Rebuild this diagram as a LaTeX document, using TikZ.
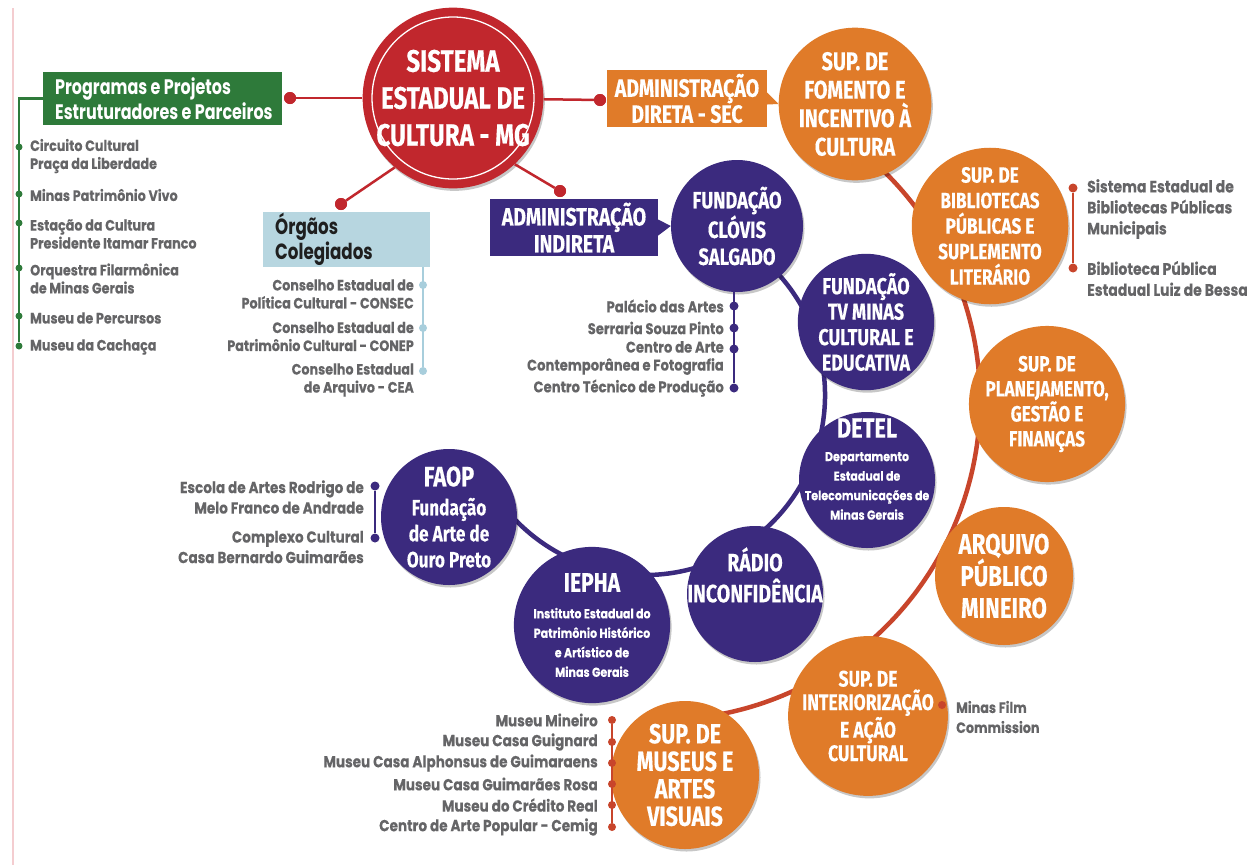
\documentclass[tikz,border=0pt]{standalone}
\usepackage{fontspec}
\newfontfamily\TF[FakeStretch=0.78,FakeBold=0.3]{Fira Sans}
\newfontfamily\GF[FakeStretch=0.85,FakeBold=0.2]{Poppins}
\newfontfamily\GC[FakeStretch=0.76]{Poppins}
\newcommand\tfsz[2]{\TF\bfseries\fontsize{#1}{#2}\selectfont}
\newcommand\gfsz[2]{\GF\bfseries\fontsize{#1}{#2}\selectfont}
\newcommand\gcsz[2]{\GC\bfseries\fontsize{#1}{#2}\selectfont}
\usetikzlibrary{shadows}
\definecolor{redC}{HTML}{C1272D}
\definecolor{orgC}{HTML}{E07B29}
\definecolor{arcO}{HTML}{C8452B}
\definecolor{purC}{HTML}{3B2A7E}
\definecolor{grnC}{HTML}{2E7A3A}
\definecolor{bluB}{HTML}{B7D6E0}
\definecolor{bluL}{HTML}{A8CEDC}
\definecolor{grayT}{HTML}{656567}
\definecolor{pinkL}{HTML}{F4CDD0}
\tikzset{
  shad/.style={drop shadow={shadow xshift=1.5pt, shadow yshift=-2.5pt, opacity=0.22, fill=black}},
  circ/.style={circle, inner sep=0pt, text=white, align=center, shad},
  oc/.style={circ, fill=orgC},
  pc/.style={circ, fill=purC},
  ctext/.style={inner sep=0pt, text=white, align=center},
  item/.style={text=grayT, inner sep=0pt},
  dotR/.style={circle, fill=redC, inner sep=0pt, minimum size=12pt},
  dotG/.style={circle, fill=grnC, inner sep=0pt, minimum size=7pt},
  dotB/.style={circle, fill=bluL, inner sep=0pt, minimum size=8pt},
  dotP/.style={circle, fill=purC, inner sep=0pt, minimum size=9pt},
  dotO/.style={circle, fill=arcO, inner sep=0pt, minimum size=9pt},
  redline/.style={redC, line width=2.5pt},
}
\begin{document}
\begin{tikzpicture}[x=1pt,y=1pt]
\fill[white] (0,0) rectangle (1252,-865);
\useasboundingbox (0,0) rectangle (1252,-865);
\draw[pinkL, line width=2pt] (13,-8) -- (13,-865);

% arcs of the two rings
\coordinate (oC) at (660,-400);
\coordinate (pC) at (645,-395);
\draw[arcO, line width=4.5pt] (oC) ++(60:320) arc[start angle=60, end angle=-88, radius=320];
\draw[purC, line width=4.5pt] (pC) ++(62:180) arc[start angle=62, end angle=-148, radius=180];

% main circle
\node[circ, fill=redC, minimum size=174pt, font=\tfsz{31}{37}] (main) at (453,-98) {SISTEMA\\ESTADUAL DE\\CULTURA - MG};
\draw[white, line width=1.3pt] (main.center) circle[radius=81];

% boxes
\node[fill=grnC, minimum width=239pt, minimum height=53pt, inner sep=0pt] (prog) at (162.5,-98.5) {};
\node[inner sep=0pt, anchor=west, align=left, text=white, font=\gcsz{21}{25}] (progT) at (55,-98.5) {Programas e Projetos\\Estruturadores e Parceiros};
\node[fill=bluB, minimum width=167pt, minimum height=55pt, inner sep=0pt] (org) at (346.5,-239.5) {};
\node[inner sep=0pt, anchor=west, align=left, text=black!88, font=\gcsz{22}{25}] (orgT) at (275,-239.5) {Órgãos\\Colegiados};
\node[fill=orgC, minimum width=160pt, minimum height=53pt, text=white, align=center, font=\tfsz{25}{26}] (admD) at (687,-98.5) {ADMINISTRAÇÃO\\DIRETA - SEC};
\node[fill=purC, minimum width=168pt, minimum height=55pt, text=white, align=center, font=\tfsz{25}{27}] (admI) at (574,-227.5) {ADMINISTRAÇÃO\\INDIRETA};

% orange circles
\node[oc, minimum size=144pt, font=\tfsz{25.5}{28.5}] (fom) at (855,-104) {SUP. DE\\FOMENTO E\\INCENTIVO À\\CULTURA};
\node[oc, minimum size=132pt, font=\tfsz{22}{25.5}] (bib) at (990,-226) {SUP. DE\\BIBLIOTECAS\\PÚBLICAS E\\SUPLEMENTO\\LITERÁRIO};
\node[oc, minimum size=144pt, font=\tfsz{22}{25}] (pla) at (1047,-404) {SUP. DE\\PLANEJAMENTO,\\GESTÃO E\\FINANÇAS};
\node[oc, minimum size=138pt, font=\tfsz{28.5}{32}] (arq) at (1004,-576) {ARQUIVO\\PÚBLICO\\MINEIRO};
\node[oc, minimum size=138pt, font=\tfsz{22.5}{23.5}] (int) at (868,-716) {SUP. DE\\INTERIORIZAÇÃO\\E AÇÃO\\CULTURAL};
\node[oc, minimum size=148pt, font=\tfsz{27.5}{27.5}] (mus) at (685,-775) {SUP. DE\\MUSEUS E\\ARTES\\VISUAIS};

% purple circles
\node[pc, minimum size=132pt, font=\tfsz{23.5}{27}] (fcs) at (737,-226) {FUNDAÇÃO\\CLÓVIS\\SALGADO};
\node[pc, minimum size=134pt, font=\tfsz{23}{25.5}] (tvm) at (866,-322) {FUNDAÇÃO\\TV MINAS\\CULTURAL E\\EDUCATIVA};
\node[pc, minimum size=136pt] (det) at (867,-480) {};
\node[ctext, font=\gfsz{13}{19.5}] (detT) at (867,-469) {{\tfsz{28}{30}DETEL}\\[4pt]Departamento\\Estadual de\\Telecomunicações de\\Minas Gerais};
\node[pc, minimum size=136pt] (rad) at (755,-594) {};
\node[ctext, font=\tfsz{25}{31}] (radT) at (755,-575) {RÁDIO\\INCONFIDÊNCIA};
\node[pc, minimum size=136pt, font=\gfsz{13}{19.5}] (iep) at (592,-625) {{\tfsz{27}{30}IEPHA}\\[7pt]Instituto Estadual do\\Patrimônio Histórico\\e Artístico de\\Minas Gerais};
\node[pc, minimum size=136pt, font=\tfsz{22}{26}] (fao) at (449,-517) {{\tfsz{28}{30}FAOP}\\[3pt]Fundação\\de Arte de\\Ouro Preto};

% pointers of the two administration boxes
\fill[orgC] ([yshift=6pt]admD.east) -- (fom.west) -- ([yshift=-6pt]admD.east) -- cycle;
\fill[purC] ([yshift=8pt]admI.east) -- (fcs.west) -- ([yshift=-8pt]admI.east) -- cycle;

% red connectors from the main circle
\node[dotR] (dP) at (290,-98) {};
\node[dotR] (dO) at (341,-204) {};
\node[dotR] (dD) at (600,-100) {};
\node[dotR] (dI) at (560,-191) {};
\draw[redline] (main) -- (dP);
\draw[redline] (main.230) -- (dO);
\draw[redline] (main) -- (dD);
\draw[redline] (main.-47) -- (dI);
\node[dotR] at (dP) {};
\node[dotR] at (dO) {};
\node[dotR] at (dD) {};
\node[dotR] at (dI) {};

% green list
\node[dotG] (g1) at (19,-147) {};
\node[dotG] (g2) at (19,-194) {};
\node[dotG] (g3) at (19,-223) {};
\node[dotG] (g4) at (19,-268) {};
\node[dotG] (g5) at (19,-316) {};
\node[dotG] (g6) at (19,-346) {};
\draw[grnC, line width=2.2pt] (prog.west) -| (g6);
\begin{scope}[every node/.style={item, anchor=west, align=left, font=\gfsz{15}{18}}]
\node (gt1) at (30,-156) {Circuito Cultural\\Praça da Liberdade};
\node (gt2) at (30,-195) {Minas Patrimônio Vivo};
\node (gt3) at (30,-234) {Estação da Cultura\\Presidente Itamar Franco};
\node (gt4) at (30,-278.5) {Orquestra Filarmônica\\de Minas Gerais};
\node (gt5) at (30,-318) {Museu de Percursos};
\node (gt6) at (30,-347) {Museu da Cachaça};
\end{scope}

% orgaos list
\node[dotB] (o1) at (423,-285) {};
\node[dotB] (o2) at (423,-328) {};
\node[dotB] (o3) at (423,-371) {};
\draw[bluL, line width=2.2pt] (o3 |- org.south) -- (o3);
\begin{scope}[every node/.style={item, anchor=east, align=right, font=\gfsz{15}{18}}]
\node (ot1) at (414,-294) {Conselho Estadual de\\Política Cultural - CONSEC};
\node (ot2) at (414,-336.5) {Conselho Estadual de\\Patrimônio Cultural - CONEP};
\node (ot3) at (414,-380) {Conselho Estadual\\de Arquivo - CEA};
\end{scope}

% FCS list
\node[dotP] (f1) at (734,-306) {};
\node[dotP] (f2) at (734,-328) {};
\node[dotP] (f3) at (734,-349) {};
\node[dotP] (f4) at (734,-388) {};
\draw[purC, line width=2.5pt] (f4 |- fcs.south) -- (f4);
\begin{scope}[every node/.style={item, anchor=east, align=right, font=\gfsz{15.5}{18}}]
\node (ft1) at (724,-306) {Palácio das Artes};
\node (ft2) at (724,-328) {Serraria Souza Pinto};
\node (ft3) at (724,-358) {Centro de Arte\\Contemporânea e Fotografia};
\node (ft4) at (724,-388) {Centro Técnico de Produção};
\end{scope}

% FAOP list
\node[dotP] (a1) at (375,-486) {};
\node[dotP] (a2) at (375,-538) {};
\draw[purC, line width=2.5pt] (a1) -- (a2);
\begin{scope}[every node/.style={item, anchor=east, align=right, font=\gfsz{16}{20.5}}]
\node (at1) at (364,-497) {Escola de Artes Rodrigo de\\Melo Franco de Andrade};
\node (at2) at (364,-547) {Complexo Cultural\\Casa Bernardo Guimarães};
\end{scope}

% Bibliotecas list
\node[dotO] (b1) at (1073,-188) {};
\node[dotO] (b2) at (1073,-268) {};
\draw[arcO, line width=2.5pt] (b1) -- (b2);
\begin{scope}[every node/.style={item, anchor=west, align=left, font=\gfsz{16.5}{21}}]
\node (bt1) at (1087,-209) {Sistema Estadual de\\Bibliotecas Públicas\\Municipais};
\node (bt2) at (1087,-278.5) {Biblioteca Pública\\Estadual Luiz de Bessa};
\end{scope}

% Interiorizacao item
\node[dotO, minimum size=8pt] (m1) at (942,-705) {};
\node[item, anchor=west, align=left, font=\gfsz{15}{20}] (mt) at (956,-717) {Minas Film\\Commission};

% Museus list
\node[dotO, minimum size=8pt] (u1) at (612,-720) {};
\node[dotO, minimum size=8pt] (u2) at (612,-742) {};
\node[dotO, minimum size=8pt] (u3) at (612,-763) {};
\node[dotO, minimum size=8pt] (u4) at (612,-784) {};
\node[dotO, minimum size=8pt] (u5) at (612,-805) {};
\node[dotO, minimum size=8pt] (u6) at (612,-827) {};
\draw[arcO, line width=2.2pt] (u1) -- (u6);
\begin{scope}[every node/.style={item, anchor=east, font=\gfsz{16}{20}}]
\node (ut1) at (598,-720) {Museu Mineiro};
\node (ut2) at (598,-742) {Museu Casa Guignard};
\node (ut3) at (598,-763) {Museu Casa Alphonsus de Guimaraens};
\node (ut4) at (598,-784) {Museu Casa Guimarães Rosa};
\node (ut5) at (598,-805) {Museu do Crédito Real};
\node (ut6) at (598,-827) {Centro de Arte Popular - Cemig};
\end{scope}
\end{tikzpicture}
\end{document}
